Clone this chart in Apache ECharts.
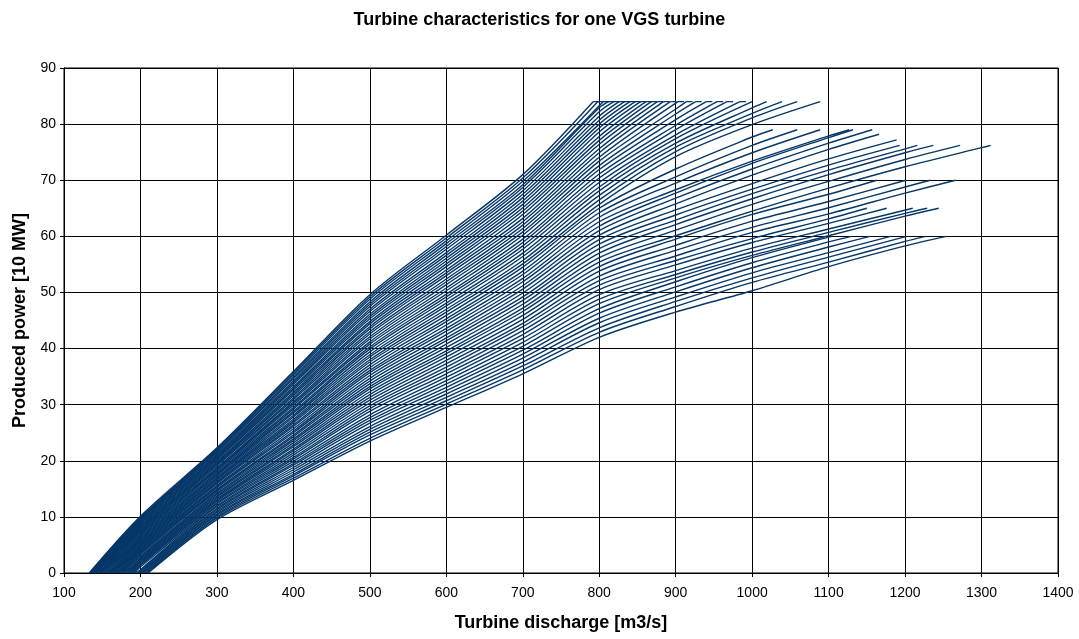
<!DOCTYPE html>
<html>
<head>
<meta charset="utf-8">
<title>Turbine characteristics</title>
<script src="https://cdn.jsdelivr.net/npm/echarts/dist/echarts.min.js"></script>
<style>
  html, body { margin: 0; padding: 0; background: #fff; }
  #chart { width: 1079px; height: 639px; }
</style>
</head>
<body>
<div id="chart"></div>
<script>
// One curve per head, ordered from the highest head (0) to the lowest (55).
// Discharge [m3/s] where each curve starts at zero power.
const startQ = [133,134,134,135,136,137,138,139,140,141,142,143,145,146,147,148,149,151,152,153,155,156,158,159,160,162,163,165,166,168,169,171,172,174,175,177,178,180,182,183,185,186,188,190,191,193,195,196,198,200,201,203,205,207,208,210];

// Produced power [10 MW] at fixed discharges (null where the curve is not defined there).
const powerAt200 = [10.1,9.9,9.7,9.5,9.4,9.2,9.0,8.8,8.6,8.4,8.2,8.0,7.9,7.7,7.5,7.3,7.1,6.9,6.7,6.5,6.3,6.1,5.9,5.7,5.5,5.3,5.1,4.9,4.7,4.5,4.3,4.1,3.9,3.7,3.5,3.3,3.0,2.8,2.6,2.4,2.2,2.0,1.8,1.6,1.4,1.1,null,null,null,null,null,null,null,null,null,null];
const powerAt300 = [22.3,22.1,21.9,21.7,21.5,21.2,21.0,20.8,20.6,20.4,20.2,19.9,19.7,19.5,19.3,19.1,18.8,18.6,18.4,18.2,17.9,17.7,17.5,17.3,17.0,16.8,16.6,16.3,16.1,15.9,15.6,15.4,15.2,14.9,14.7,14.5,14.2,14.0,13.7,13.5,13.2,13.0,12.8,12.5,12.3,12.0,11.8,11.5,11.3,11.0,10.8,10.5,10.3,10.0,9.8,9.5];
const powerAt400 = [35.9,35.6,35.3,34.9,34.6,34.2,33.9,33.6,33.2,32.9,32.6,32.2,31.9,31.6,31.2,30.9,30.5,30.2,29.9,29.5,29.2,28.8,28.5,28.1,27.8,27.4,27.1,26.8,26.4,26.1,25.7,25.3,25.0,24.6,24.3,23.9,23.6,23.2,22.8,22.5,22.1,21.8,21.4,21.0,20.6,20.3,19.9,19.5,19.2,18.8,18.4,18.0,17.6,17.3,16.9,16.5];
const powerAt500 = [49.6,49.2,48.8,48.3,47.9,47.5,47.0,46.6,46.1,45.7,45.3,44.8,44.4,43.9,43.5,43.0,42.6,42.1,41.7,41.2,40.8,40.3,39.9,39.4,38.9,38.5,38.0,37.6,37.1,36.6,36.1,35.7,35.2,34.7,34.2,33.7,33.2,32.8,32.3,31.8,31.3,30.8,30.3,29.8,29.3,28.8,28.2,27.7,27.2,26.7,26.1,25.6,25.1,24.6,24.0,23.5];
const powerAt600 = [60.2,59.7,59.2,58.7,58.2,57.7,57.1,56.6,56.1,55.6,55.1,54.6,54.0,53.5,53.0,52.4,51.9,51.4,50.8,50.3,49.7,49.2,48.7,48.1,47.6,47.0,46.5,45.9,45.3,44.8,44.2,43.6,43.1,42.5,41.9,41.4,40.8,40.2,39.6,39.1,38.5,37.9,37.3,36.7,36.1,35.5,34.9,34.3,33.7,33.1,32.5,31.9,31.3,30.7,30.1,29.5];
const powerAt700 = [71.0,70.4,69.8,69.2,68.7,68.1,67.5,66.9,66.3,65.7,65.1,64.5,63.9,63.2,62.6,62.0,61.4,60.8,60.2,59.5,58.9,58.3,57.7,57.0,56.4,55.7,55.1,54.5,53.8,53.2,52.5,51.9,51.2,50.6,49.9,49.2,48.6,47.9,47.2,46.6,45.9,45.2,44.5,43.9,43.2,42.5,41.8,41.1,40.4,39.7,39.0,38.3,37.6,36.9,36.2,35.5];
const powerAt800 = [null,null,null,82.9,82.2,81.4,80.7,80.0,79.3,78.6,77.8,77.1,76.4,75.6,74.9,74.1,73.4,72.6,71.9,71.1,70.4,69.6,68.8,68.1,67.3,66.5,65.7,65.0,64.2,63.4,62.6,61.8,61.0,60.2,59.4,58.6,57.8,57.0,56.2,55.4,54.6,53.8,52.9,52.1,51.3,50.5,49.6,48.8,48.0,47.1,46.3,45.4,44.6,43.7,42.9,42.0];
const powerAt900 = [null,null,null,null,null,null,null,null,null,null,null,null,null,null,null,null,82.7,81.8,80.8,79.8,79.0,78.1,77.4,76.6,75.9,75.1,74.2,72.0,70.6,69.5,68.3,67.7,66.8,65.8,64.7,63.8,62.9,62.1,61.1,60.1,59.5,58.4,57.5,56.5,55.7,54.9,53.9,53.2,52.6,51.9,51.0,50.1,49.2,48.4,47.5,46.5];
const powerAt1000 = [null,null,null,null,null,null,null,null,null,null,null,null,null,null,null,null,null,null,null,null,null,null,null,82.9,81.9,81.1,79.9,77.7,76.2,74.9,73.4,73.0,72.0,70.9,69.4,68.4,67.6,66.7,65.7,64.5,63.9,62.7,61.6,60.7,59.6,58.9,57.9,57.2,56.6,56.2,55.3,54.4,53.5,52.6,51.8,50.3];
const powerAt1100 = [null,null,null,null,null,null,null,null,null,null,null,null,null,null,null,null,null,null,null,null,null,null,null,null,null,null,null,null,null,null,77.9,77.6,76.6,75.5,73.8,72.7,71.8,71.0,69.8,68.6,67.5,66.2,65.1,64.0,63.1,62.3,61.3,60.7,60.1,null,59.0,58.1,57.1,56.3,55.4,54.6];
const powerAt1200 = [null,null,null,null,null,null,null,null,null,null,null,null,null,null,null,null,null,null,null,null,null,null,null,null,null,null,null,null,null,null,null,null,null,null,null,null,75.6,74.9,73.7,72.4,null,null,68.8,67.7,null,null,null,64.1,63.6,null,null,null,null,null,59.1,58.3];
const powerAt1300 = [null,null,null,null,null,null,null,null,null,null,null,null,null,null,null,null,null,null,null,null,null,null,null,null,null,null,null,null,null,null,null,null,null,null,null,null,null,null,null,75.8,null,null,null,null,null,null,null,null,null,null,null,null,null,null,null,null];

// Discharges of the columns above.
const columnQ = [200, 300, 400, 500, 600, 700, 800, 900, 1000, 1100, 1200, 1300];
const columnPower = [powerAt200, powerAt300, powerAt400, powerAt500, powerAt600, powerAt700,
                     powerAt800, powerAt900, powerAt1000, powerAt1100, powerAt1200, powerAt1300];

// Where each curve reaches its power limit, and the limit itself.
const limitQ = [792,798,805,812,819,826,833,840,847,854,861,868,876,884,893,903,914,926,940,954,967,984,1000,1019,1039,1059,1089,
                1027,1059,1089,1127,1132,1157,1166,1189,1193,1216,1237,1272,1312,1163,1201,1233,1266,1150,1176,1210,1229,1244,
                1104,1130,1154,1181,1202,1227,1254];
const limitP = [84,84,84,84,84,84,84,84,84,84,84,84,84,84,84,84,84,84,84,84,84,84,84,84,84,84,84,
                79,79,79,79,79,79,78.2,77.2,76.2,76.2,76.2,76.2,76.2,70,70,70,70,65,65,65,65,65,
                60,60,60,60,60,60,60];
// Discharge at the end of the flat part along the 84 limit (null: no flat part).
const flatEndQ = [800,806,813,820,827,834,841,848,855,862,869,876,884,892,901,911,922,934,948,962,975,992,
                  null,null,null,null,null,null,null,null,null,null,null,null,null,null,null,null,null,null,null,null,null,null,
                  null,null,null,null,null,null,null,null,null,null,null,null];

// Axis ticks.
const xTicks = { min: 100, max: 1400, step: 100 };
const yTicks = { min: 0, max: 90, step: 10 };

const LINE_COLOR = '#053768';
const FONT = '"Liberation Sans", Arial, sans-serif';

const curveStyle = { color: LINE_COLOR, width: 1.4 };
const series = [];
startQ.forEach((q0, i) => {
  const points = [[q0, 0]];
  columnQ.forEach((q, k) => {
    const p = columnPower[k][i];
    if (p !== null && q > q0 && q < limitQ[i]) points.push([q, p]);
  });
  points.push([limitQ[i], limitP[i]]);
  series.push({
    type: 'line', data: points, showSymbol: false, smooth: 0.3,
    silent: true, lineStyle: curveStyle, emphasis: { disabled: true }
  });
  // straight run along the power limit
  if (flatEndQ[i] !== null) {
    series.push({
      type: 'line', data: [[limitQ[i], limitP[i]], [flatEndQ[i], limitP[i]]], showSymbol: false,
      silent: true, lineStyle: curveStyle, emphasis: { disabled: true }
    });
  }
});

const chart = echarts.init(document.getElementById('chart'), null, { renderer: 'canvas' });
chart.setOption({
  animation: false,
  backgroundColor: '#fff',
  title: {
    text: 'Turbine characteristics for one VGS turbine',
    left: 'center',
    top: 6,
    textStyle: { fontFamily: FONT, fontSize: 18, fontWeight: 'bold', color: '#000' }
  },
  grid: { left: 64, right: 21, top: 68, bottom: 66, show: true, borderColor: '#000', borderWidth: 1, containLabel: false },
  xAxis: {
    type: 'value',
    min: xTicks.min, max: xTicks.max, interval: xTicks.step,
    name: 'Turbine discharge [m3/s]',
    nameLocation: 'middle',
    nameGap: 41,
    nameTextStyle: { fontFamily: FONT, fontSize: 18, fontWeight: 'bold', color: '#000' },
    axisLine: { show: true, lineStyle: { color: '#000', width: 1 } },
    axisTick: { show: true, length: 4, lineStyle: { color: '#000' } },
    axisLabel: { fontFamily: FONT, fontSize: 14, color: '#000', margin: 13, formatter: v => String(v) },
    splitLine: { show: true, lineStyle: { color: '#000', width: 1 } }
  },
  yAxis: {
    type: 'value',
    min: yTicks.min, max: yTicks.max, interval: yTicks.step,
    name: 'Produced power [10 MW]',
    nameLocation: 'middle',
    nameGap: 35,
    nameTextStyle: { fontFamily: FONT, fontSize: 18, fontWeight: 'bold', color: '#000' },
    axisLine: { show: true, lineStyle: { color: '#000', width: 1 } },
    axisTick: { show: true, length: 4, lineStyle: { color: '#000' } },
    axisLabel: { fontFamily: FONT, fontSize: 14, color: '#000', margin: 8, formatter: v => String(v) },
    splitLine: { show: true, lineStyle: { color: '#000', width: 1 } }
  },
  series: series
});
</script>
</body>
</html>
